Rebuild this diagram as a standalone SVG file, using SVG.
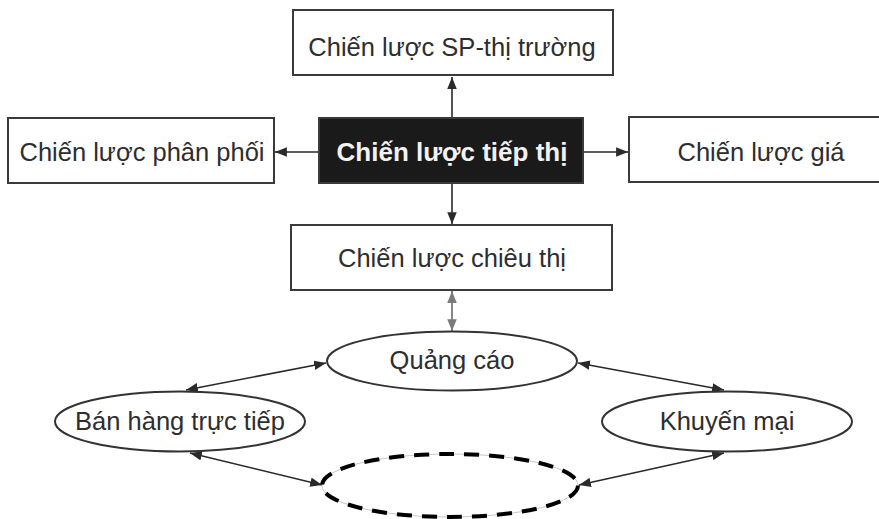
<svg xmlns="http://www.w3.org/2000/svg" width="879" height="519" viewBox="0 0 879 519">
  <style>
    .box { fill: #ffffff; stroke: #3a3a3a; stroke-width: 2; }
    .core { fill: #1a1a1a; stroke: #3a3a3a; stroke-width: 2; }
    .oval { fill: #ffffff; stroke: #333333; stroke-width: 2; }
    .label { font-family: "Liberation Sans", Arial, sans-serif; font-size: 25.5px; fill: #2e2e2e; text-anchor: middle; }
    .core-label { font-family: "Liberation Sans", Arial, sans-serif; font-size: 26px; font-weight: bold; fill: #f2f2f2; text-anchor: middle; }
    .link { stroke: #2a2a2a; stroke-width: 1.6; fill: none; }
    .link-grey { stroke: #7a7a7a; stroke-width: 1.8; fill: none; }
  </style>
  <defs>
    <marker id="head" viewBox="0 0 10 8" refX="10" refY="4" markerWidth="12" markerHeight="9.5" markerUnits="userSpaceOnUse" orient="auto-start-reverse">
      <path d="M0,0 L10,4 L0,8 z" fill="#2a2a2a"/>
    </marker>
    <marker id="head-grey" viewBox="0 0 10 8" refX="10" refY="4" markerWidth="12" markerHeight="9.5" markerUnits="userSpaceOnUse" orient="auto-start-reverse">
      <path d="M0,0 L10,4 L0,8 z" fill="#7a7a7a"/>
    </marker>
  </defs>

  <!-- connectors -->
  <g id="connectors">
    <line class="link" x1="452" y1="117" x2="452" y2="77" marker-end="url(#head)"/>
    <line class="link" x1="319" y1="152" x2="275" y2="152" marker-end="url(#head)"/>
    <line class="link" x1="583" y1="152" x2="628" y2="152" marker-end="url(#head)"/>
    <line class="link" x1="452" y1="183" x2="452" y2="224" marker-end="url(#head)"/>
    <line class="link-grey" x1="452" y1="291" x2="452" y2="331" marker-start="url(#head-grey)" marker-end="url(#head-grey)"/>
    <line class="link" x1="186" y1="390" x2="326" y2="363" marker-start="url(#head)" marker-end="url(#head)"/>
    <line class="link" x1="578" y1="363" x2="724" y2="390" marker-start="url(#head)" marker-end="url(#head)"/>
    <line class="link" x1="190" y1="453" x2="322" y2="485" marker-start="url(#head)" marker-end="url(#head)"/>
    <line class="link" x1="724" y1="453" x2="579" y2="485" marker-start="url(#head)" marker-end="url(#head)"/>
  </g>

  <!-- strategy boxes -->
  <g id="product-market">
    <rect class="box" x="293" y="10" width="320" height="65"/>
    <text class="label" x="452" y="56">Chiến lược SP-thị trường</text>
  </g>
  <g id="marketing">
    <rect class="core" x="319" y="118" width="264" height="65"/>
    <text class="core-label" x="452" y="161">Chiến lược tiếp thị</text>
  </g>
  <g id="distribution">
    <rect class="box" x="8" y="118" width="266" height="65"/>
    <text class="label" x="142" y="161">Chiến lược phân phối</text>
  </g>
  <g id="pricing">
    <rect class="box" x="629" y="117" width="264" height="65"/>
    <text class="label" x="761" y="161">Chiến lược giá</text>
  </g>
  <g id="promotion">
    <rect class="box" x="291" y="225" width="321" height="65"/>
    <text class="label" x="452" y="267">Chiến lược chiêu thị</text>
  </g>

  <!-- promotion mix -->
  <g id="advertising">
    <ellipse class="oval" cx="452" cy="361" rx="125" ry="29.5"/>
    <text class="label" x="452" y="369">Quảng cáo</text>
  </g>
  <g id="direct-sales">
    <ellipse class="oval" cx="180" cy="421.5" rx="125" ry="30"/>
    <text class="label" x="180" y="430">Bán hàng trực tiếp</text>
  </g>
  <g id="sales-promotion">
    <ellipse class="oval" cx="727" cy="421.5" rx="125" ry="30"/>
    <text class="label" x="727" y="430">Khuyến mại</text>
  </g>
  <g id="open-slot">
    <ellipse cx="450" cy="485.5" rx="128" ry="31.5" fill="#ffffff" stroke="#c8c8c8" stroke-width="1"/>
    <ellipse cx="450" cy="485.5" rx="128" ry="31.5" fill="none" stroke="#000000" stroke-width="4" stroke-dasharray="15 10"/>
  </g>
</svg>
